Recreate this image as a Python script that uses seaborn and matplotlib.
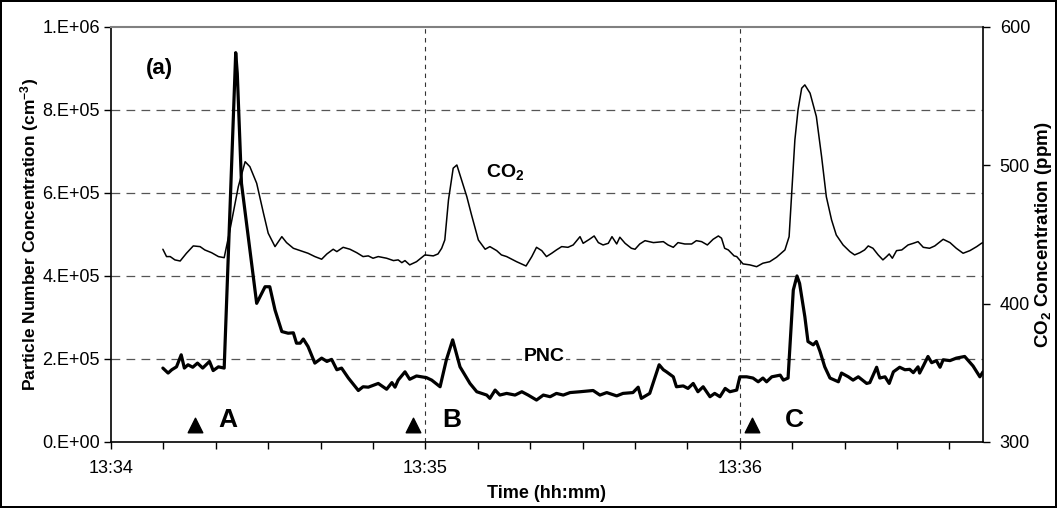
import matplotlib
matplotlib.use("Agg")
import matplotlib.pyplot as plt
from matplotlib.ticker import MultipleLocator
import seaborn as sns

# seconds after 13:34:00
pnc_t = [9.9, 10.9, 11.6, 12.5, 13.4, 14.0, 14.7, 15.6, 16.5, 17.5, 18.8, 19.5, 20.5, 21.6,
         23.8, 24.1, 24.9, 27.8, 29.4, 30.3, 31.3, 32.6, 33.8, 34.8, 35.4, 36.1, 36.7, 37.6,
         38.9, 40.2, 41.2, 42.1, 43.1, 44.0, 45.3, 47.2, 48.1, 49.1, 51.0, 52.6, 53.6, 54.2,
         54.8, 56.1, 57.0, 58.3, 60.2, 61.2, 62.8, 64.0, 65.2, 66.6, 68.5, 69.8, 71.7, 72.3,
         73.3, 74.2, 75.5, 77.1, 78.4, 79.6, 81.2, 82.5, 83.8, 85.0, 86.3, 87.6, 89.5, 92.0,
         93.3, 94.6, 96.5, 97.7, 99.6, 100.6, 101.2, 102.8, 104.6, 105.4, 106.0, 107.3, 107.9,
         109.2, 110.1, 111.1, 112.0, 113.0, 114.3, 115.2, 116.2, 117.2, 118.1, 119.4, 120.0,
         121.3, 122.5, 123.5, 124.4, 125.1, 126.1, 127.7, 128.3, 129.2, 130.2, 130.9, 131.4,
         132.4, 133.0, 134.0, 134.6, 135.3, 136.2, 137.2, 138.1, 138.8, 139.4, 140.7, 141.6,
         142.6, 144.2, 144.8, 146.1, 146.7, 147.7, 148.5, 149.3, 150.5, 151.5, 152.4, 153.1,
         154.0, 154.3, 155.0, 155.9, 156.6, 157.5, 158.2, 158.8, 160.1, 161.3, 162.9, 164.5,
         165.8, 166.4]
pnc_k = [178, 166, 174, 181, 210, 178, 186, 180, 190, 178, 194, 172, 181, 178,
         938, 888, 623, 334, 374, 374, 318, 266, 262, 263, 238, 238, 248, 230,
         190, 202, 194, 199, 174, 178, 154, 124, 133, 132, 141, 127, 143, 132,
         149, 169, 151, 159, 155, 149, 133, 198, 246, 181, 141, 121, 113, 105,
         125, 113, 117, 113, 121, 113, 101, 113, 109, 117, 113, 119, 121, 124,
         113, 119, 111, 117, 119, 132, 105, 117, 186, 174, 169, 157, 133,
         135, 129, 141, 121, 133, 109, 117, 109, 129, 121, 125, 157,
         157, 154, 145, 154, 145, 157, 161, 149, 154, 366, 400, 382,
         302, 242, 234, 242, 218, 181, 154, 149, 145, 166, 157, 149,
         157, 141, 143, 180, 154, 157, 141, 169, 180, 174, 175, 167,
         181, 166, 183, 206, 191, 196, 180, 198, 196, 202, 206, 183,
         157, 169]

co2_t = [9.9, 10.6, 11.3, 12.2, 13.2, 14.4, 15.7, 17.0, 17.9, 19.2, 20.5, 21.6, 22.7, 24.3,
         25.6, 26.5, 27.8, 29.1, 30.0, 31.3, 32.6, 33.5, 34.8, 36.1, 37.6, 38.9, 40.2, 41.2,
         42.4, 43.1, 44.3, 45.6, 46.9, 48.1, 49.1, 50.0, 51.0, 52.6, 53.9, 54.8, 55.5, 56.1,
         57.0, 58.3, 59.9, 61.5, 62.4, 63.1, 63.7, 64.4, 65.3, 66.0, 66.9, 67.9, 68.8, 70.1,
         71.4, 72.3, 73.6, 74.5, 75.5, 77.4, 79.2, 80.3, 81.2, 82.2, 83.1, 84.1, 85.0, 86.0,
         87.2, 88.2, 89.5, 90.1, 91.3, 92.2, 93.0, 93.9, 94.9, 95.6, 96.5, 97.1, 98.1, 99.3,
         100.0, 100.9, 101.9, 103.5, 105.4, 106.3, 107.3, 108.2, 109.5, 110.8, 111.7, 112.7,
         113.8, 114.9, 115.9, 116.5, 117.1, 117.8, 118.9, 119.4, 120.6, 121.9, 123.2, 124.4,
         125.7, 127.0, 128.6, 129.4, 129.9, 130.5, 131.1, 131.8, 132.4, 133.4, 134.6, 135.6,
         136.5, 137.5, 138.4, 139.7, 141.0, 141.9, 142.9, 143.8, 144.5, 145.4, 146.4, 147.3,
         148.0, 148.5, 149.1, 149.9, 150.9, 152.1, 153.1, 154.0, 155.0, 156.2, 157.2, 158.8,
         160.1, 161.3, 162.6, 163.9, 165.2, 166.1, 166.4]
co2_ppm = [439.3, 434.0, 434.0, 431.6, 430.8, 436.4, 441.7, 441.2, 438.8, 436.8, 434.0, 433.2, 453.3, 484.6,
           502.6, 499.0, 487.0, 465.3, 450.9, 441.2, 448.4, 444.1, 440.0, 438.3, 436.4, 434.0, 432.1, 435.9,
           439.3, 437.6, 440.7, 439.3, 436.8, 434.0, 434.5, 432.8, 434.0, 432.8, 431.1, 431.6, 429.6, 431.1,
           428.0, 430.3, 435.2, 434.5, 435.9, 440.0, 446.0, 474.9, 497.9, 500.2, 489.4, 477.3, 464.1, 446.0,
           439.3, 441.2, 438.3, 435.2, 434.0, 430.3, 427.2, 434.0, 440.7, 438.3, 434.0, 436.4, 438.8, 441.2,
           440.7, 442.4, 448.4, 443.6, 446.5, 448.9, 444.1, 442.4, 443.6, 448.4, 443.1, 448.0, 443.6, 440.0,
           439.3, 443.1, 445.5, 444.1, 444.8, 442.4, 440.7, 444.1, 443.1, 443.1, 445.5, 444.8,
           442.4, 446.5, 448.9, 447.3, 440.0, 438.8, 434.5, 434.0, 428.7, 428.0, 426.7, 429.2,
           430.3, 433.5, 438.8, 448.4, 479.8, 518.3, 540.0, 555.7, 558.1, 552.1, 535.2, 506.2,
           477.3, 460.5, 449.6, 442.4, 437.6, 435.2, 436.8, 438.8, 441.7, 440.0, 435.2, 431.6,
           434.0, 435.9, 432.8, 438.3, 438.8, 442.4, 443.6, 444.8, 440.7, 440.0, 441.7, 446.5,
           444.1, 440.0, 436.4, 438.3, 441.2, 443.6, 444.1]

event_t = [16.0, 57.6, 122.4]
event_labels = ["A", "B", "C"]
label_t = [22.3, 65.1, 130.5]

x_major = [0, 60, 120]
x_labels = ["13:34", "13:35", "13:36"]
y_left = [0, 2e5, 4e5, 6e5, 8e5, 1e6]
y_left_labels = ["0.E+00", "2.E+05", "4.E+05", "6.E+05", "8.E+05", "1.E+06"]
y_right = [300, 400, 500, 600]

sns.set_theme(style="white")
plt.rcParams['font.family'] = ['Liberation Sans', 'DejaVu Sans']
plt.rcParams['text.color'] = 'black'
plt.rcParams['axes.labelcolor'] = 'black'
plt.rcParams['xtick.color'] = 'black'
plt.rcParams['ytick.color'] = 'black'
plt.rcParams['mathtext.default'] = 'regular'

fig = plt.figure(figsize=(10.57, 5.08), dpi=100)
fig.patch.set_edgecolor("black")
fig.patch.set_linewidth(1.5)
ax = fig.add_axes([0.105, 0.130, 0.825, 0.817])

pnc = [v * 1000 for v in pnc_k]
sns.lineplot(x=pnc_t, y=pnc, ax=ax, color="black", linewidth=2.3, zorder=3)

ax.set_xlim(0, 166.4)
ax.set_ylim(0, 1e6)
ax.set_xticks(x_major)
ax.set_xticklabels(x_labels, fontsize=13)
ax.xaxis.set_minor_locator(MultipleLocator(10))
ax.set_yticks(y_left)
ax.set_yticklabels(y_left_labels, fontsize=13)
ax.tick_params(axis="x", which="both", direction="out", length=5, width=1, color="black",
               bottom=True, pad=8)
ax.tick_params(axis="y", direction="out", length=5, width=1, color="black", left=True, pad=3)

for v in y_left[1:-1]:
    ax.axhline(v, color="#555555", lw=0.9, ls=(0, (7, 5)), zorder=1)
for v in x_major[1:]:
    ax.axvline(v, color="#333333", lw=0.8, ls=(0, (4, 4)), zorder=1)

for s in ["left", "bottom"]:
    ax.spines[s].set_color("black")
    ax.spines[s].set_linewidth(1.2)
ax.spines["top"].set_color("#808080")
ax.spines["top"].set_linewidth(1.5)
ax.spines["right"].set_visible(False)

ax.set_xlabel("Time (hh:mm)", fontsize=13, fontweight="bold", labelpad=6)
ax.set_ylabel("Particle Number Concentration (cm$^{-3}$)", fontsize=12.5,
              fontweight="bold", labelpad=1)

ax2 = ax.twinx()
sns.lineplot(x=co2_t, y=co2_ppm, ax=ax2, color="black", linewidth=1.1, zorder=3)
ax2.set_ylim(300, 600)
ax2.set_yticks(y_right)
ax2.set_yticklabels([str(v) for v in y_right], fontsize=13)
ax2.tick_params(axis="y", direction="out", length=5, width=1, color="black", right=True, pad=7)
ax2.spines["right"].set_color("black")
ax2.spines["right"].set_linewidth(1.2)
for s in ["left", "bottom", "top"]:
    ax2.spines[s].set_visible(False)
ax2.set_ylabel("CO$_2$ Concentration (ppm)", fontsize=13.5, fontweight="bold", labelpad=2)
ax2.set_xlim(0, 166.4)

ax.scatter(event_t, [40000] * 3, marker="^", s=110, color="black", zorder=4)
for t, lab in zip(label_t, event_labels):
    ax.text(t, 52000, lab, fontsize=19, fontweight="bold", ha="center", va="center")

ax.text(9.3, 900000, "(a)", fontsize=16, fontweight="bold", ha="center", va="center")
ax.text(82.6, 205000, "PNC", fontsize=14, fontweight="bold", ha="center", va="center",
        bbox=dict(facecolor="white", edgecolor="none", pad=1))
ax2.text(75.2, 495, "CO$_2$", fontsize=14, fontweight="bold", ha="center", va="center")

fig.savefig("out.png", dpi=100, edgecolor=fig.get_edgecolor())
